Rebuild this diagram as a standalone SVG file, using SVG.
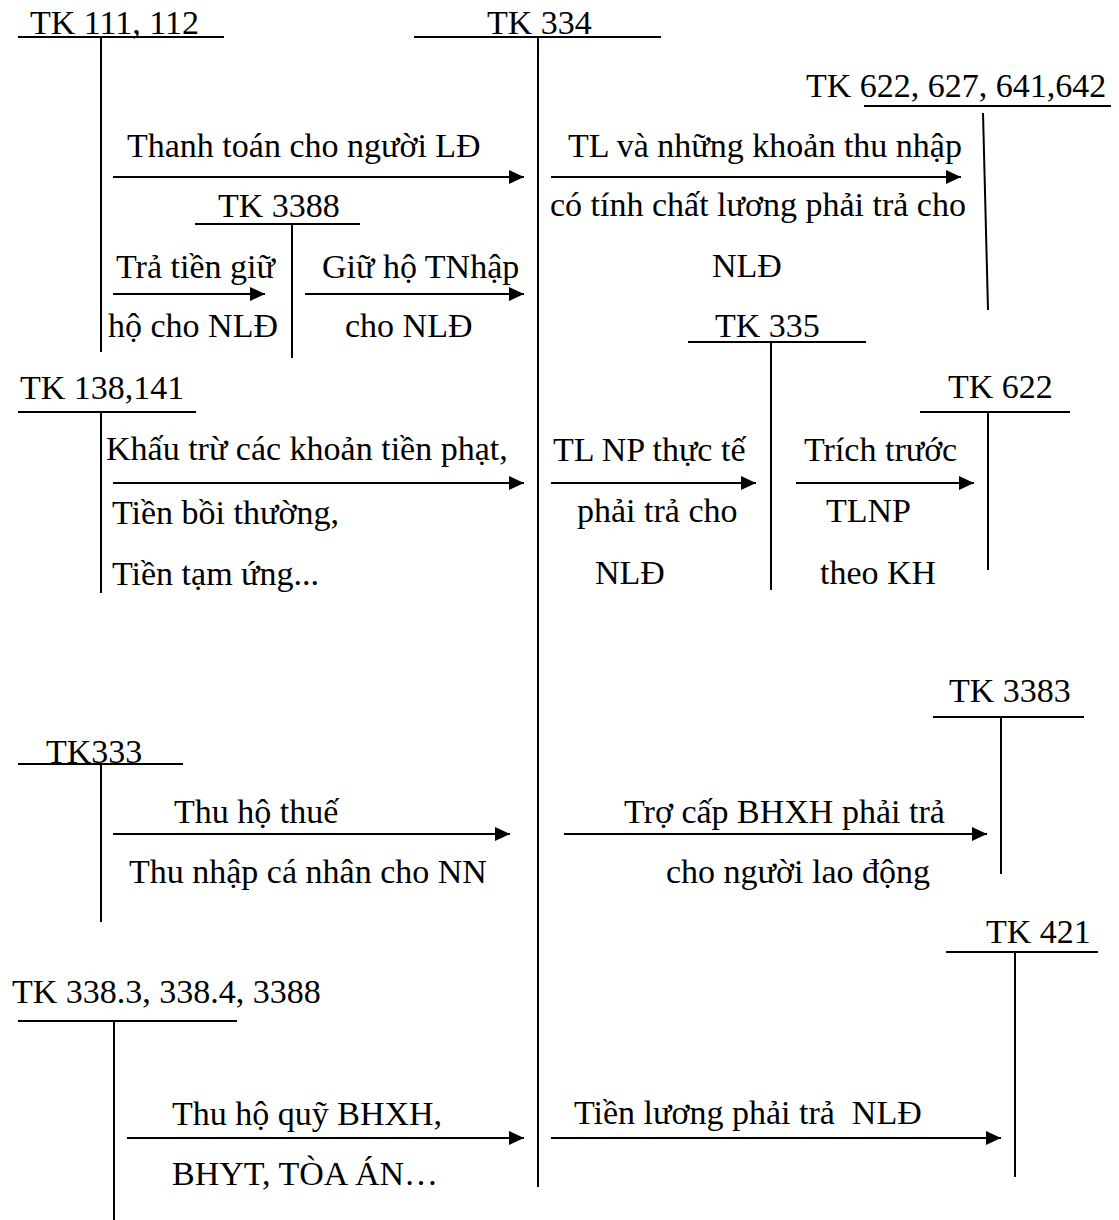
<svg xmlns="http://www.w3.org/2000/svg" width="1119" height="1220" viewBox="0 0 1119 1220">
<style>
text{font-family:"Liberation Serif","Times New Roman",serif;font-size:34px;fill:#000}
.ln{stroke:#000;stroke-width:2;fill:none}
.ar{stroke:#000;stroke-width:2;fill:none;marker-end:url(#ah)}
</style>
<defs>
<marker id="ah" markerUnits="userSpaceOnUse" markerWidth="15" markerHeight="14" refX="15" refY="7" orient="auto">
<path d="M0,0 L15,7 L0,14 z" fill="#000"/>
</marker>
</defs>
<rect width="1119" height="1220" fill="#fff"/>
<g id="tk111">
<text x="30" y="34">TK 111, 112</text>
<line class="ln" x1="18" y1="37" x2="224" y2="37"/>
<line class="ln" x1="101" y1="37" x2="101" y2="352"/>
</g>
<g id="tk334">
<text x="487" y="34">TK 334</text>
<line class="ln" x1="414" y1="37" x2="661" y2="37"/>
<line class="ln" x1="538" y1="37" x2="538" y2="1187"/>
</g>
<g id="tk622x">
<text x="806" y="97">TK 622, 627, 641,642</text>
<line class="ln" x1="864" y1="106" x2="1111" y2="106"/>
<line class="ln" x1="983" y1="113" x2="988" y2="310"/>
</g>
<g id="tk3388">
<text x="218" y="217">TK 3388</text>
<line class="ln" x1="195" y1="224" x2="360" y2="224"/>
<line class="ln" x1="292" y1="224" x2="292" y2="358"/>
</g>
<g id="tk335">
<text x="715" y="337">TK 335</text>
<line class="ln" x1="688" y1="342" x2="866" y2="342"/>
<line class="ln" x1="771" y1="342" x2="771" y2="590"/>
</g>
<g id="tk138">
<text x="20" y="399">TK 138,141</text>
<line class="ln" x1="18" y1="412" x2="196" y2="412"/>
<line class="ln" x1="101" y1="412" x2="101" y2="593"/>
</g>
<g id="tk622">
<text x="948" y="398">TK 622</text>
<line class="ln" x1="920" y1="412" x2="1070" y2="412"/>
<line class="ln" x1="988" y1="412" x2="988" y2="570"/>
</g>
<g id="tk3383">
<text x="949" y="702">TK 3383</text>
<line class="ln" x1="933" y1="717" x2="1084" y2="717"/>
<line class="ln" x1="1001" y1="717" x2="1001" y2="874"/>
</g>
<g id="tk333">
<text x="46" y="763">TK333</text>
<line class="ln" x1="18" y1="764" x2="183" y2="764"/>
<line class="ln" x1="101" y1="764" x2="101" y2="922"/>
</g>
<g id="tk421">
<text x="986" y="943">TK 421</text>
<line class="ln" x1="946" y1="952" x2="1098" y2="952"/>
<line class="ln" x1="1015" y1="952" x2="1015" y2="1177"/>
</g>
<g id="tk3383b">
<text x="12" y="1003">TK 338.3, 338.4, 3388</text>
<line class="ln" x1="18" y1="1021" x2="237" y2="1021"/>
<line class="ln" x1="114" y1="1021" x2="114" y2="1220"/>
</g>
<g id="connectors">
<line class="ar" x1="113" y1="177" x2="524" y2="177"/>
<line class="ar" x1="551" y1="177" x2="961" y2="177"/>
<line class="ar" x1="113" y1="294" x2="265" y2="294"/>
<line class="ar" x1="305" y1="294" x2="524" y2="294"/>
<line class="ar" x1="113" y1="483" x2="524" y2="483"/>
<line class="ar" x1="551" y1="483" x2="756" y2="483"/>
<line class="ar" x1="796" y1="483" x2="974" y2="483"/>
<line class="ar" x1="113" y1="834" x2="510" y2="834"/>
<line class="ar" x1="564" y1="834" x2="987" y2="834"/>
<line class="ar" x1="127" y1="1138" x2="524" y2="1138"/>
<line class="ar" x1="551" y1="1138" x2="1001" y2="1138"/>
</g>
<g id="labels">
<text x="127" y="157">Thanh toán cho người LĐ</text>
<text x="568" y="157">TL và những khoản thu nhập</text>
<text x="550" y="216">có tính chất lương phải trả cho</text>
<text x="712" y="277">NLĐ</text>
<text x="116" y="278">Trả tiền giữ</text>
<text x="108" y="337">hộ cho NLĐ</text>
<text x="322" y="278">Giữ hộ TNhập</text>
<text x="345" y="337">cho NLĐ</text>
<text x="106" y="460">Khấu trừ các khoản tiền phạt,</text>
<text x="112" y="524">Tiền bồi thường,</text>
<text x="112" y="585">Tiền tạm ứng...</text>
<text x="553" y="461">TL NP thực tế</text>
<text x="577" y="522">phải trả cho</text>
<text x="595" y="584">NLĐ</text>
<text x="804" y="461">Trích trước</text>
<text x="826" y="522">TLNP</text>
<text x="820" y="584">theo KH</text>
<text x="174" y="823">Thu hộ thuế</text>
<text x="129" y="883">Thu nhập cá nhân cho NN</text>
<text x="624" y="823">Trợ cấp BHXH phải trả</text>
<text x="666" y="883">cho người lao động</text>
<text x="172" y="1125">Thu hộ quỹ BHXH,</text>
<text x="172" y="1185">BHYT, TÒA ÁN…</text>
<text x="574" y="1124" xml:space="preserve">Tiền lương phải trả  NLĐ</text>
</g>
</svg>
